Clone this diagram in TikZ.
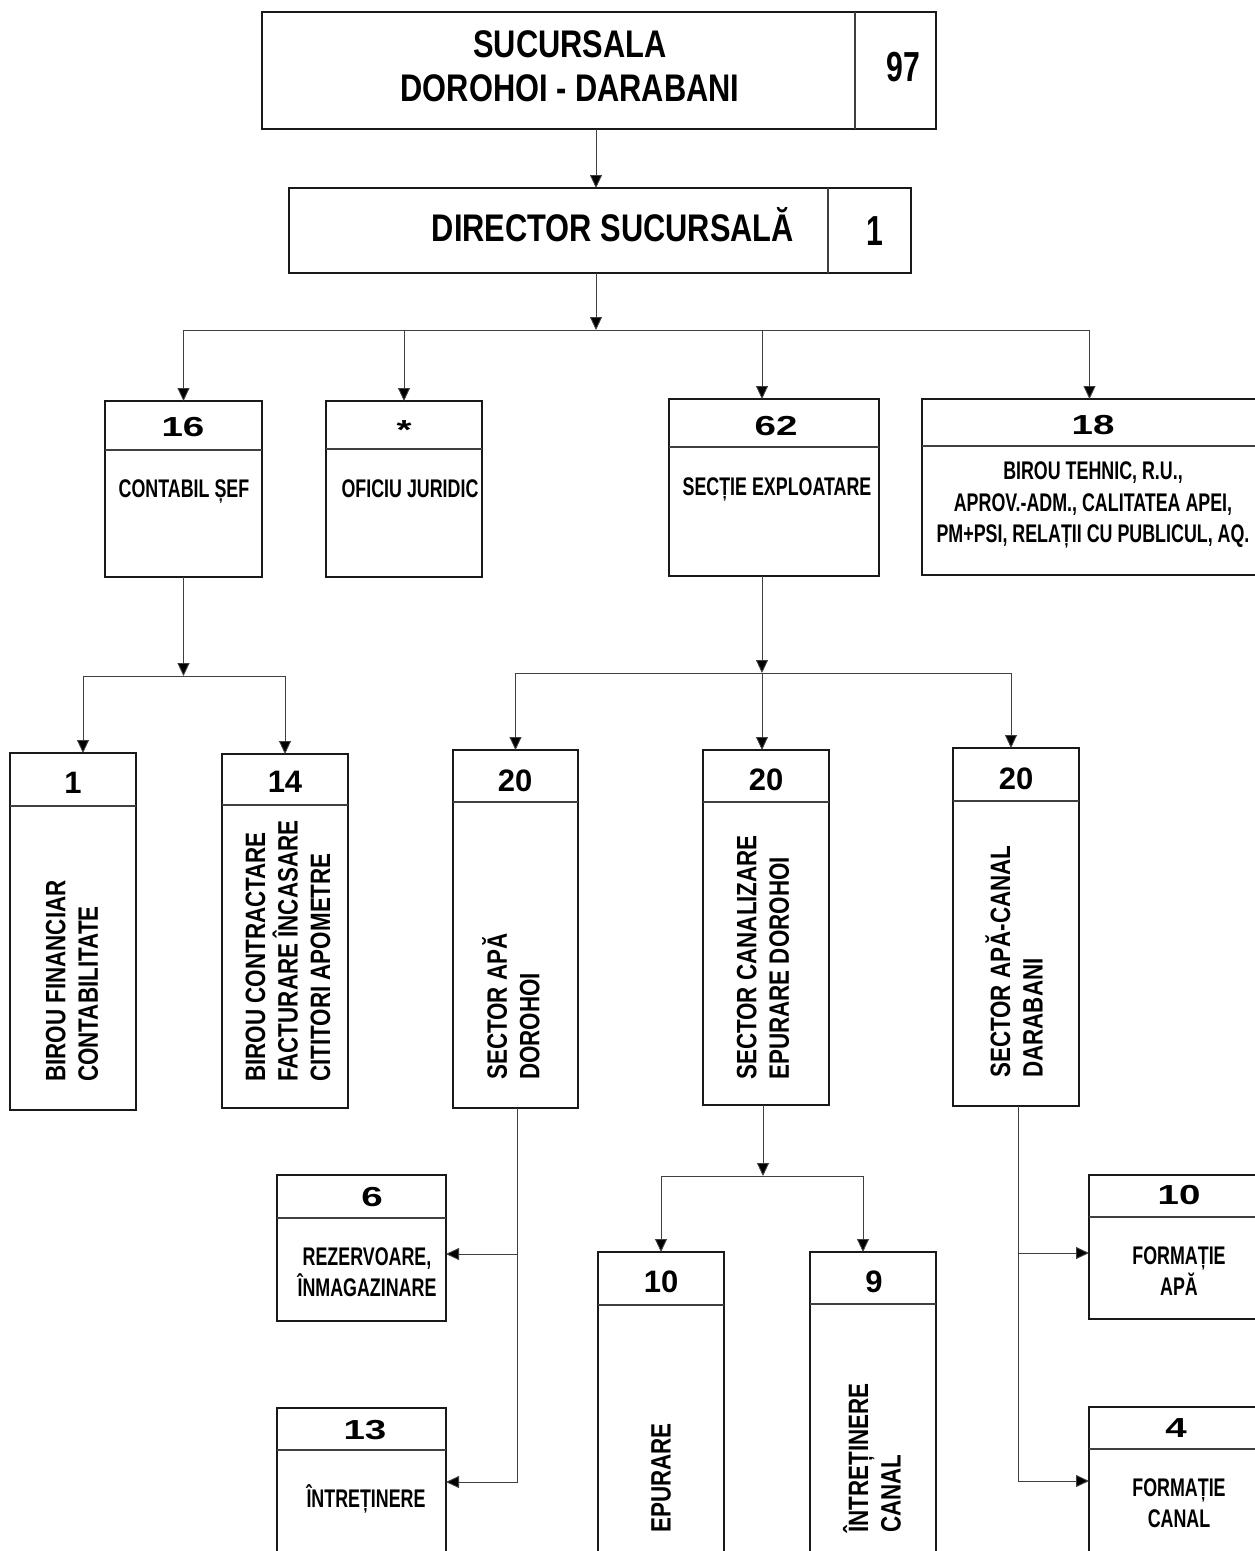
\documentclass[tikz,border=0pt]{standalone}
\usepackage{fontspec}
\usetikzlibrary{arrows.meta,fit,calc}
\newfontfamily\ttlfont[FakeStretch=0.8]{Liberation Sans}
\newfontfamily\tallfont[FakeStretch=0.72]{Liberation Sans}
\newfontfamily\lblfont[FakeStretch=0.7]{Liberation Sans}
\newfontfamily\widefont[FakeStretch=1.4]{Liberation Sans}
\newfontfamily\plainfont{Liberation Sans}
\tikzset{
  boxnode/.style={draw=black!90, line width=1.6pt, inner sep=0pt, outer sep=0pt},
  divline/.style={line width=1.1pt, draw=black!75},
  conn/.style={line width=0.9pt, draw=black!75},
  arr/.style={conn, -{Triangle[width=12pt,length=13pt,fill=black]}},
  wnum/.style={font=\widefont\bfseries\fontsize{27.5}{29}\selectfont, inner sep=0pt},
  cnum/.style={font=\plainfont\bfseries\fontsize{31}{33}\selectfont, inner sep=0pt},
  tnum/.style={font=\tallfont\bfseries\fontsize{42}{46}\selectfont, inner sep=0pt},
  lbl/.style={font=\lblfont\bfseries\fontsize{25.5}{31.5}\selectfont, align=center, inner sep=0pt},
  vlbl/.style={font=\ttlfont\bfseries\fontsize{28}{32.5}\selectfont, align=left, rotate=90, anchor=west, inner sep=0pt},
  title/.style={font=\ttlfont\bfseries\fontsize{38.5}{44}\selectfont, align=center, inner sep=0pt}
}
\newcommand\obox[6]{%
  \node[boxnode, fit={(#2,#3) (#4,#5)}] (#1) {};
  \draw[divline] (#2,#6) -- (#4,#6);}
\begin{document}
\begin{tikzpicture}[x=1pt,y=-1pt]
\useasboundingbox (0,0) rectangle (1255,1551);
\fill[white] (0,0) rectangle (1255,1551);
\clip (0,0) rectangle (1255,1551);

% top boxes
\node[boxnode, fit={(262,12) (936,129)}] (top) {};
\draw[divline] (855,12) -- (855,129);
\node[title] (ttop) at (570,66) {SUCURSALA\\DOROHOI - DARABANI};
\node[tnum] (n97) at (903,67) {97};

\node[boxnode, fit={(289,188) (911,273)}] (dir) {};
\draw[divline] (828,188) -- (828,273);
\node[title, anchor=base] (tdir) at (613,241) {DIRECTOR SUCURSALĂ};
\node[tnum] (n1d) at (875,231) {1};

% level 2
\obox{b16}{105}{401}{262}{577}{450}
\obox{bjur}{326}{401}{482}{577}{449}
\obox{b62}{669}{399}{879}{576}{447}
\obox{b18}{922}{399}{1265}{575}{446}

\node[wnum] (n16) at (183,427) {16};
\node[wnum] (njur) at (404,430) {*};
\node[wnum] (n62) at (776,426) {62};
\node[wnum] (n18) at (1093,425) {18};

\node[lbl, anchor=base] (t16) at (184,497) {CONTABIL ȘEF};
\node[lbl, anchor=base] (tjur) at (410,497) {OFICIU JURIDIC};
\node[lbl, anchor=base] (t62) at (777,495) {SECȚIE EXPLOATARE};
\node[lbl] (t18) at (1093,505) {BIROU TEHNIC, R.U.,\\APROV.-ADM., CALITATEA APEI,\\PM+PSI, RELAȚII CU PUBLICUL, AQ.};

% level 3
\obox{b1}{10}{753}{136}{1110}{806}
\obox{b14}{222}{754}{348}{1108}{805}
\obox{b20a}{453}{750}{578}{1108}{802}
\obox{b20b}{703}{750}{829}{1105}{802}
\obox{b20c}{953}{748}{1079}{1106}{801}

\node[cnum] (n1) at (73,783) {1};
\node[cnum] (n14) at (285,782) {14};
\node[cnum] (n20a) at (515,781) {20};
\node[cnum] (n20b) at (766,780) {20};
\node[cnum] (n20c) at (1016,779) {20};

\node[vlbl] (t1) at (72,1082) {BIROU FINANCIAR\\CONTABILITATE};
\node[vlbl] (t14) at (288,1082) {BIROU CONTRACTARE\\FACTURARE ÎNCASARE\\CITITORI APOMETRE};
\node[vlbl] (t20a) at (511,1080) {SECTOR APĂ\\DOROHOI};
\node[vlbl] (t20b) at (763,1080) {SECTOR CANALIZARE\\EPURARE DOROHOI};
\node[vlbl] (t20c) at (1014,1078) {SECTOR APĂ-CANAL\\DARABANI};

% level 4
\obox{b6}{277}{1175}{446}{1321}{1218}
\obox{b13}{277}{1408}{446}{1565}{1450}
\obox{b10e}{598}{1252}{724}{1565}{1305}
\obox{b9}{810}{1252}{936}{1565}{1304}
\obox{b10f}{1089}{1175}{1265}{1319}{1217}
\obox{b4}{1089}{1407}{1265}{1565}{1449}

\node[wnum] (n6) at (372,1197) {6};
\node[wnum] (n13) at (365,1430) {13};
\node[cnum] (n10e) at (661,1282) {10};
\node[cnum] (n9) at (874,1282) {9};
\node[wnum] (n10f) at (1179,1195) {10};
\node[wnum] (n4) at (1176,1428) {4};

\node[lbl] (t6) at (367,1272) {REZERVOARE,\\ÎNMAGAZINARE};
\node[lbl, anchor=base] (t13) at (366,1507) {ÎNTREȚINERE};
\node[vlbl] (t10e) at (661,1533) {EPURARE};
\node[vlbl] (t9) at (872,1533) {ÎNTREȚINERE\\CANAL};
\node[lbl] (t10f) at (1179,1271) {FORMAȚIE\\APĂ};
\node[lbl] (t4) at (1179,1503) {FORMAȚIE\\CANAL};

% bus levels
\coordinate (busA) at (0,330);
\coordinate (busB) at (0,676);
\coordinate (busC) at (0,673);
\coordinate (busD) at (0,1176);
\coordinate (j6) at (0,1254);
\coordinate (j13) at (0,1482);
\coordinate (j10f) at (0,1253);
\coordinate (j4) at (0,1481);

% connectors
\coordinate (vtop) at ([xshift=-3pt]top.south);
\draw[arr] (vtop) -- (vtop |- dir.north);
\coordinate (vdir) at ([xshift=-4pt]dir.south);
\draw[arr] (vdir) -- (vdir |- busA);
\draw[arr] (vdir |- busA) -| (b16.north);
\draw[arr] (vdir |- busA) -| (bjur.north);
\draw[arr] (vdir |- busA) -| ([xshift=-12pt]b62.north);
\draw[arr] (vdir |- busA) -| ([xshift=-4pt]b18.north);

\draw[arr] (b16.south) -- (b16.south |- busB);
\draw[arr] (b16.south |- busB) -| ([xshift=10pt]b1.north);
\draw[arr] (b16.south |- busB) -| (b14.north);

\draw[arr] ([xshift=-12pt]b62.south) -- ([xshift=-12pt]b62.south |- busC);
\draw[arr] ([xshift=-12pt]b62.south |- busC) -| (b20a.north);
\draw[arr] ([xshift=-12pt]b62.south |- busC) -| ([xshift=-4pt]b20b.north);
\draw[arr] ([xshift=-12pt]b62.south |- busC) -| ([xshift=-5pt]b20c.north);

\coordinate (v20a) at ([xshift=2pt]b20a.south);
\draw[conn] (v20a) -- (v20a |- j13);
\draw[arr] (v20a |- j6) -- (b6.east |- j6);
\draw[arr] (v20a |- j13) -- (b13.east |- j13);

\coordinate (v20b) at ([xshift=-3pt]b20b.south);
\draw[arr] (v20b) -- (v20b |- busD);
\draw[arr] (v20b |- busD) -| (b10e.north);
\draw[arr] (v20b |- busD) -| ([xshift=-10pt]b9.north);

\coordinate (v20c) at ([xshift=2pt]b20c.south);
\draw[conn] (v20c) -- (v20c |- j4);
\draw[arr] (v20c |- j10f) -- (b10f.west |- j10f);
\draw[arr] (v20c |- j4) -- (b4.west |- j4);
\end{tikzpicture}
\end{document}
